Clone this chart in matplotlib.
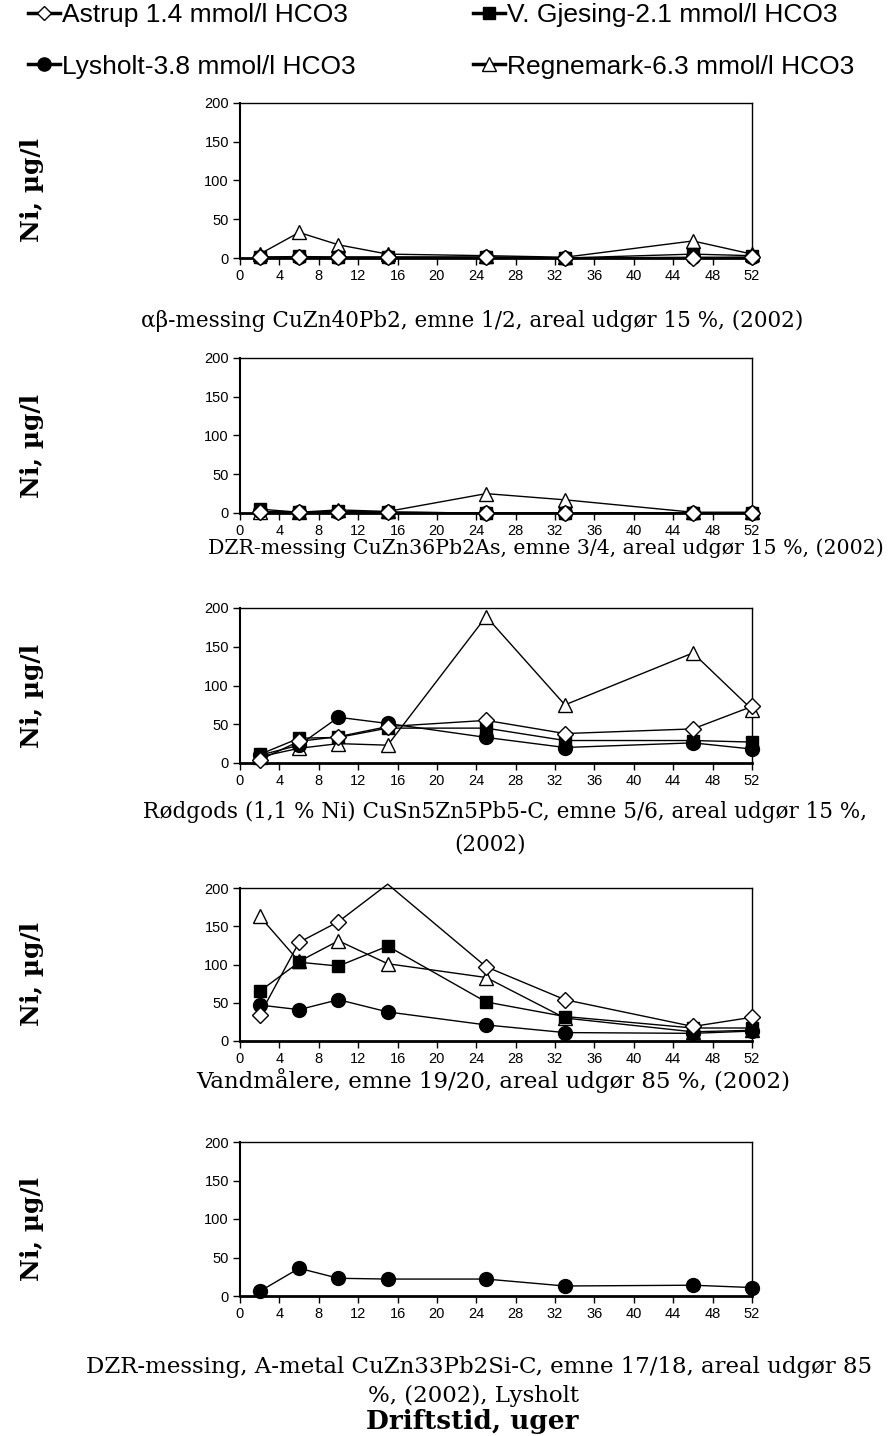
import matplotlib.pyplot as plt
import numpy as np

weeks = [2, 6, 10, 15, 25, 33, 46, 52]

series_names = ["Astrup 1.4 mmol/l HCO3", "V. Gjesing-2.1 mmol/l HCO3",
                "Lysholt-3.8 mmol/l HCO3", "Regnemark-6.3 mmol/l HCO3"]

# panel 1: ab-messing
p1_astrup = [1, 1, 1, 1, 1, 0, 0, 1]
p1_gjesing = [1, 2, 1, 1, 1, 0, 5, 3]
p1_lysholt = [1, 1, 1, 1, 1, 0, 1, 1]
p1_regnemark = [5, 33, 17, 5, 3, 1, 22, 5]

# panel 2: DZR-messing
p2_astrup = [1, 1, 1, 1, 0, 0, 0, 0]
p2_gjesing = [5, 1, 2, 1, 0, 0, 0, 0]
p2_lysholt = [2, 1, 1, 1, 0, 0, 0, 0]
p2_regnemark = [1, 1, 4, 2, 25, 17, 1, 1]

# panel 3: Rødgods
p3_astrup = [4, 28, 34, 47, 55, 38, 44, 73]
p3_gjesing = [11, 32, 33, 45, 45, 29, 29, 27]
p3_lysholt = [10, 23, 59, 51, 33, 20, 26, 18]
p3_regnemark = [8, 19, 25, 23, 189, 75, 142, 69]

# panel 4: Vandmålere
p4_astrup = [34, 129, 156, 205, 97, 54, 19, 31]
p4_gjesing = [65, 103, 98, 124, 51, 32, 17, 17]
p4_lysholt = [47, 41, 54, 38, 21, 11, 10, 13]
p4_regnemark = [163, 104, 131, 101, 83, 30, 12, 14]

# panel 5: DZR A-metal, only Lysholt
p5_lysholt = [6, 36, 23, 22, 22, 13, 14, 11]

subtitles = [
    ["αβ-messing CuZn40Pb2, emne 1/2, areal udgør 15 %, (2002)"],
    ["DZR-messing CuZn36Pb2As, emne 3/4, areal udgør 15 %, (2002)"],
    ["Rødgods (1,1 % Ni) CuSn5Zn5Pb5-C, emne 5/6, areal udgør 15 %,", "(2002)"],
    ["Vandmålere, emne 19/20, areal udgør 85 %, (2002)"],
    ["DZR-messing, A-metal CuZn33Pb2Si-C, emne 17/18, areal udgør 85", "%, (2002), Lysholt"],
]

styles = {
    0: dict(marker="D", mfc="white", mec="black", ms=8, zorder=6),
    1: dict(marker="s", mfc="black", mec="black", ms=9, zorder=5),
    2: dict(marker="o", mfc="black", mec="black", ms=10, zorder=4),
    3: dict(marker="^", mfc="white", mec="black", ms=10, zorder=3),
}

panels = [
    {0: p1_astrup, 1: p1_gjesing, 2: p1_lysholt, 3: p1_regnemark},
    {0: p2_astrup, 1: p2_gjesing, 2: p2_lysholt, 3: p2_regnemark},
    {0: p3_astrup, 1: p3_gjesing, 2: p3_lysholt, 3: p3_regnemark},
    {0: p4_astrup, 1: p4_gjesing, 2: p4_lysholt, 3: p4_regnemark},
    {2: p5_lysholt},
]

plt.rcParams["font.family"] = ["Liberation Sans", "DejaVu Sans"]
serif = ["DejaVu Serif"]

fig = plt.figure(figsize=(8.9, 14.36), dpi=100)
W, H = 890, 1436

# pixel layout: (top, bottom) of each axes, subtitle line centres and sizes
ax_tb = [(103, 258), (358, 513), (608, 763), (888, 1041), (1142, 1296)]
sub_pos = [[(472, 321)], [(546, 548)], [(505, 812), (490, 845)],
           [(493, 1081)], [(479, 1367), (473, 1396)]]
sub_size = [15.5, 14.8, 15.5, 16.5, 16.5]
left, right = 240, 752

x = np.array(weeks)
for i, data in enumerate(panels):
    top, bot = ax_tb[i]
    ax = fig.add_axes([left / W, 1 - bot / H, (right - left) / W, (bot - top) / H])
    for k in sorted(data, key=lambda k: styles[k]["zorder"]):
        y = np.array(data[k], dtype=float)
        st = styles[k]
        ax.plot(x, y, "-", color="black", lw=1.0, clip_on=False, zorder=st["zorder"])
        m = y <= 200
        ax.plot(x[m], y[m], ls="none", marker=st["marker"], mfc=st["mfc"],
                mec=st["mec"], ms=st["ms"], mew=1.0, clip_on=False, zorder=st["zorder"])
    ax.set_xlim(0, 52)
    ax.set_ylim(0, 200)
    ax.set_xticks(np.arange(0, 53, 4))
    ax.set_yticks([0, 50, 100, 150, 200])
    ax.tick_params(direction="out", length=5, width=1, labelsize=10.5, pad=3)
    for s in ax.spines.values():
        s.set_linewidth(1.0)
    ax.spines["bottom"].set_linewidth(2.0)
    ax.spines["left"].set_linewidth(1.5)
    fig.text(32 / W, 1 - ((top + bot) / 2 + 10) / H, "Ni, µg/l", rotation=90,
             ha="center", va="center", family=serif, fontweight="bold", fontsize=18)
    for line, (px, py) in zip(subtitles[i], sub_pos[i]):
        fig.text(px / W, 1 - py / H, line, ha="center", va="center",
                 family=serif, fontsize=sub_size[i])

fig.text(472 / W, 1 - 1421 / H, "Driftstid, uger", ha="center", va="center",
         family=serif, fontweight="bold", fontsize=19)

# legend, two columns placed separately
handles = []
for k in range(4):
    st = styles[k]
    h, = plt.plot([], [], "-", color="black", lw=2.5, marker=st["marker"], mfc=st["mfc"],
                  mec=st["mec"], ms=st["ms"] * 0.95)
    handles.append(h)
for cols, xpos in (([0, 2], 28), ([1, 3], 473)):
    fig.legend([handles[j] for j in cols], [series_names[j] for j in cols],
               loc="upper left", bbox_to_anchor=(xpos / W, 1 - 3 / H),
               frameon=False, fontsize=19, handlelength=1.2, handletextpad=0.1,
               labelspacing=1.05, borderaxespad=0, borderpad=0)

fig.savefig("out.png", dpi=100)
